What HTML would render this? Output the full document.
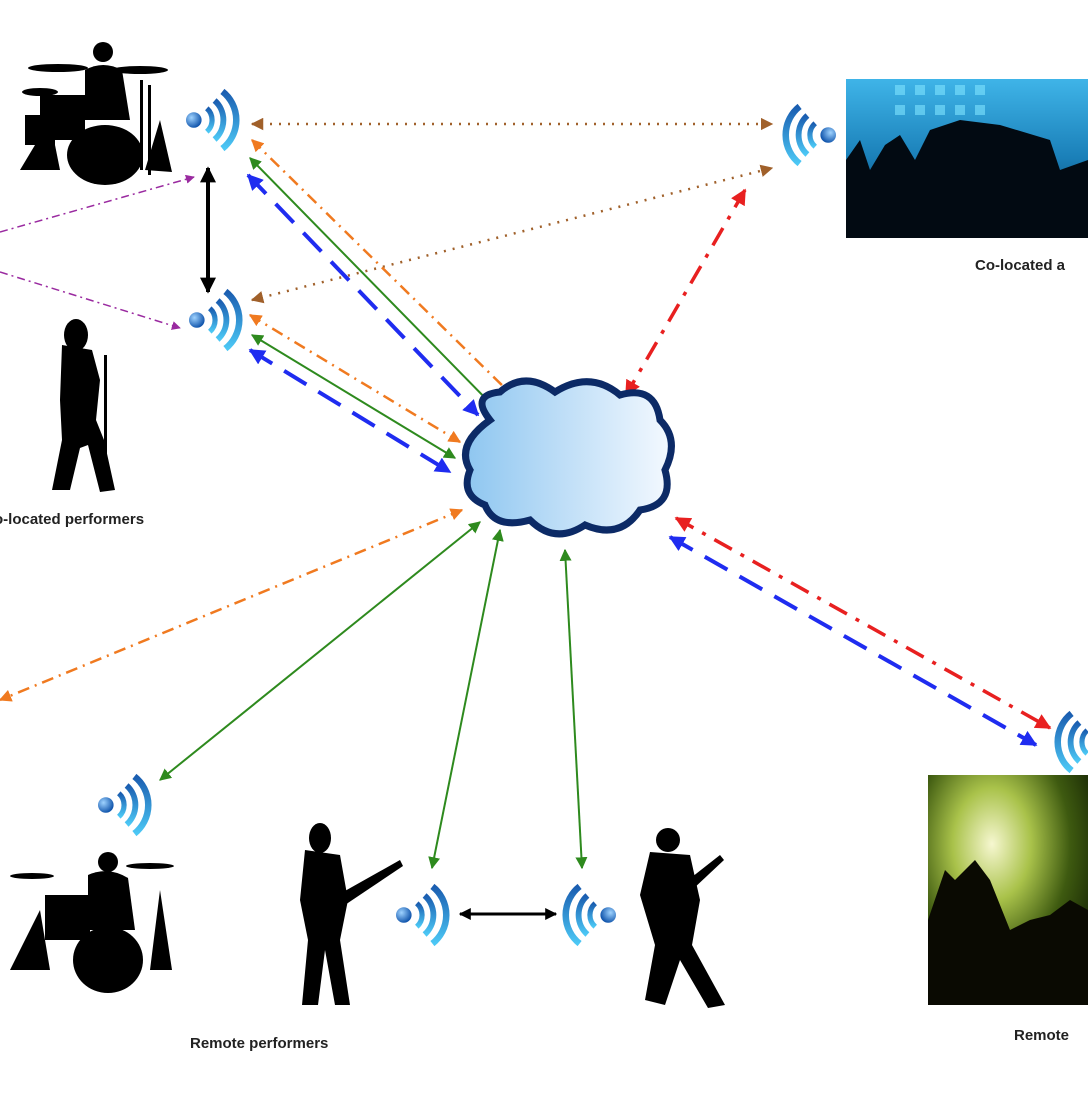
<!DOCTYPE html>
<html><head><meta charset="utf-8"><style>
html,body{margin:0;padding:0;background:#fff;width:1088px;height:1105px;overflow:hidden}
svg{display:block}
text{font-family:"Liberation Sans",sans-serif;font-weight:bold;font-size:15px;fill:#222}
</style></head><body>
<svg width="1088" height="1105" viewBox="0 0 1088 1105">
<defs>
<radialGradient id="dotg" cx="0.35" cy="0.35" r="0.7"><stop offset="0" stop-color="#9fd3ff"/><stop offset="1" stop-color="#0a4fa8"/></radialGradient>
<linearGradient id="arcg" x1="0" y1="0" x2="0" y2="1"><stop offset="0" stop-color="#1a5db0"/><stop offset="1" stop-color="#4cc8f5"/></linearGradient>
<linearGradient id="cloudg" x1="0" y1="0" x2="1" y2="0"><stop offset="0" stop-color="#8ec6f0"/><stop offset="1" stop-color="#f4f9ff"/></linearGradient>
<linearGradient id="blueimg" x1="0" y1="0" x2="0" y2="1"><stop offset="0" stop-color="#3fb4e8"/><stop offset="0.5" stop-color="#1a7fb8"/><stop offset="1" stop-color="#06304a"/></linearGradient>
<radialGradient id="greenimg" cx="0.4" cy="0.3" r="0.7"><stop offset="0" stop-color="#f6f7d0"/><stop offset="0.35" stop-color="#a9c24a"/><stop offset="0.7" stop-color="#3e5a10"/><stop offset="1" stop-color="#1a2a05"/></radialGradient>
<g id="wifi">
<g transform="scale(1.3)">
<circle cx="-14" cy="0" r="6" fill="url(#dotg)"/>
<path d="M-4,-9 A12,12 0 0 1 -4,9" fill="none" stroke="url(#arcg)" stroke-width="4"/>
<path d="M2,-15 A20,20 0 0 1 2,15" fill="none" stroke="url(#arcg)" stroke-width="4.5"/>
<path d="M8,-22 A28,28 0 0 1 8,22" fill="none" stroke="url(#arcg)" stroke-width="5"/>
</g>
</g>
<marker id="mBrown" viewBox="0 0 10 10" refX="9" refY="5" markerWidth="5" markerHeight="5" orient="auto-start-reverse"><path d="M0,0L10,5L0,10z" fill="#a0602a"/></marker>
<marker id="mOrange" viewBox="0 0 10 10" refX="9" refY="5" markerWidth="5" markerHeight="5" orient="auto-start-reverse"><path d="M0,0L10,5L0,10z" fill="#f07a20"/></marker>
<marker id="mGreen" viewBox="0 0 10 10" refX="9" refY="5" markerWidth="6" markerHeight="6" orient="auto-start-reverse"><path d="M0,0L10,5L0,10z" fill="#2e8a1e"/></marker>
<marker id="mBlue" viewBox="0 0 10 10" refX="9" refY="5" markerWidth="4" markerHeight="4" orient="auto-start-reverse"><path d="M0,0L10,5L0,10z" fill="#1f2cf0"/></marker>
<marker id="mRed" viewBox="0 0 10 10" refX="9" refY="5" markerWidth="4.5" markerHeight="4.5" orient="auto-start-reverse"><path d="M0,0L10,5L0,10z" fill="#e82020"/></marker>
<marker id="mPurple" viewBox="0 0 10 10" refX="9" refY="5" markerWidth="6" markerHeight="6" orient="auto-start-reverse"><path d="M0,0L10,5L0,10z" fill="#9a2aa0"/></marker>
<marker id="mBlack" viewBox="0 0 10 10" refX="9" refY="5" markerWidth="4" markerHeight="4" orient="auto-start-reverse"><path d="M0,0L10,5L0,10z" fill="#000"/></marker>
</defs>

<g fill="#000">
<ellipse cx="58" cy="68" rx="30" ry="4"/><ellipse cx="140" cy="70" rx="28" ry="4"/>
<ellipse cx="40" cy="92" rx="18" ry="4"/>
<circle cx="103" cy="52" r="10"/>
<path d="M85,70 Q103,60 122,70 L130,120 L85,120 Z"/>
<rect x="40" y="95" width="45" height="45"/>
<ellipse cx="105" cy="155" rx="38" ry="30"/>
<rect x="25" y="115" width="30" height="30"/>
<rect x="140" y="80" width="3" height="90"/><rect x="148" y="85" width="3" height="90"/>
<path d="M20,170 L50,120 L60,170 Z"/><path d="M145,170 L160,120 L172,172 Z"/>
</g>
<use href="#wifi" x="212" y="120"/>

<g fill="#000">
<ellipse cx="76" cy="335" rx="12" ry="16"/>
<path d="M62,345 L92,350 L100,380 L96,420 L104,440 L115,490 L100,492 L88,445 L80,448 L70,490 L52,490 L62,440 L60,400 Z"/>
<rect x="104" y="355" width="3" height="100"/>
</g>
<use href="#wifi" x="215" y="320"/>
<text x="-6" y="524">o-located performers</text>

<g>
<rect x="846" y="79" width="242" height="159" fill="url(#blueimg)"/>
<g fill="#7fe4ff" opacity="0.6"><rect x="895" y="85" width="10" height="10"/><rect x="915" y="85" width="10" height="10"/><rect x="935" y="85" width="10" height="10"/><rect x="955" y="85" width="10" height="10"/><rect x="975" y="85" width="10" height="10"/><rect x="895" y="105" width="10" height="10"/><rect x="915" y="105" width="10" height="10"/><rect x="935" y="105" width="10" height="10"/><rect x="955" y="105" width="10" height="10"/><rect x="975" y="105" width="10" height="10"/></g>
<path d="M846,238 L846,160 L860,140 L870,170 L885,145 L900,135 L915,160 L930,130 L960,120 L1000,125 L1050,140 L1060,170 L1088,160 L1088,238 Z" fill="#020a12"/>
</g>
<use href="#wifi" transform="translate(810,135) scale(-1,1)"/>
<text x="975" y="270">Co-located a</text>

<g>
<rect x="928" y="775" width="160" height="230" fill="url(#greenimg)"/>
<path d="M928,1005 L928,920 L945,870 L955,880 L975,860 L990,880 L1010,930 L1030,920 L1050,915 L1070,900 L1088,910 L1088,1005 Z" fill="#0a0a02"/>
</g>
<use href="#wifi" transform="translate(1082,742) scale(-1,1)"/>
<text x="1014" y="1040">Remote</text>

<g fill="#000">
<ellipse cx="32" cy="876" rx="22" ry="3"/><ellipse cx="150" cy="866" rx="24" ry="3"/>
<circle cx="108" cy="862" r="10"/>
<path d="M88,875 Q108,866 128,878 L135,930 L88,930 Z"/>
<rect x="45" y="895" width="45" height="45"/>
<ellipse cx="108" cy="960" rx="35" ry="33"/>
<path d="M10,970 L40,910 L50,970 Z"/><path d="M150,970 L160,890 L172,970 Z"/>
</g>
<use href="#wifi" x="124" y="805"/>

<g fill="#000">
<ellipse cx="320" cy="838" rx="11" ry="15"/>
<path d="M305,850 L340,855 L348,900 L340,940 L350,1005 L335,1005 L325,950 L318,1005 L302,1005 L308,940 L300,900 Z"/>
<path d="M320,905 L400,860 L403,866 L330,915 Z"/>
</g>
<use href="#wifi" x="422" y="915"/>

<g fill="#000">
<circle cx="668" cy="840" r="12"/>
<path d="M650,852 L690,855 L700,900 L692,945 L725,1005 L708,1008 L680,960 L665,1005 L645,1000 L655,945 L640,895 Z"/>
<path d="M650,910 L720,855 L724,860 L660,920 Z"/>
</g>
<use href="#wifi" transform="translate(590,915) scale(-1,1)"/>
<text x="190" y="1048">Remote performers</text>

<g fill="none">
<line x1="252" y1="124" x2="772" y2="124" stroke="#a0602a" stroke-width="2.5" stroke-dasharray="2,7" marker-start="url(#mBrown)" marker-end="url(#mBrown)"/>
<line x1="252" y1="300" x2="772" y2="168" stroke="#a0602a" stroke-width="2.5" stroke-dasharray="2,7" marker-start="url(#mBrown)" marker-end="url(#mBrown)"/>
<line x1="252" y1="140" x2="512" y2="395" stroke="#f07a20" stroke-width="2.5" stroke-dasharray="12,6,2,6" marker-start="url(#mOrange)" marker-end="url(#mOrange)"/>
<line x1="250" y1="158" x2="495" y2="408" stroke="#2e8a1e" stroke-width="2" marker-start="url(#mGreen)" marker-end="url(#mGreen)"/>
<line x1="248" y1="175" x2="478" y2="415" stroke="#1f2cf0" stroke-width="4" stroke-dasharray="26,14" marker-start="url(#mBlue)" marker-end="url(#mBlue)"/>
<line x1="250" y1="315" x2="460" y2="442" stroke="#f07a20" stroke-width="2.5" stroke-dasharray="12,6,2,6" marker-start="url(#mOrange)" marker-end="url(#mOrange)"/>
<line x1="252" y1="335" x2="455" y2="458" stroke="#2e8a1e" stroke-width="2" marker-start="url(#mGreen)" marker-end="url(#mGreen)"/>
<line x1="250" y1="350" x2="450" y2="472" stroke="#1f2cf0" stroke-width="4" stroke-dasharray="26,14" marker-start="url(#mBlue)" marker-end="url(#mBlue)"/>
<line x1="208" y1="168" x2="208" y2="292" stroke="#000" stroke-width="4" marker-start="url(#mBlack)" marker-end="url(#mBlack)"/>
<line x1="0" y1="232" x2="194" y2="177" stroke="#9a2aa0" stroke-width="1.5" stroke-dasharray="8,4,2,4" marker-end="url(#mPurple)"/>
<line x1="0" y1="272" x2="180" y2="328" stroke="#9a2aa0" stroke-width="1.5" stroke-dasharray="8,4,2,4" marker-end="url(#mPurple)"/>
<line x1="745" y1="190" x2="626" y2="395" stroke="#e82020" stroke-width="3.5" stroke-dasharray="20,10,4,10" marker-start="url(#mRed)" marker-end="url(#mRed)"/>
<line x1="462" y1="510" x2="0" y2="700" stroke="#f07a20" stroke-width="2.5" stroke-dasharray="12,6,2,6" marker-start="url(#mOrange)" marker-end="url(#mOrange)"/>
<line x1="480" y1="522" x2="160" y2="780" stroke="#2e8a1e" stroke-width="2" marker-start="url(#mGreen)" marker-end="url(#mGreen)"/>
<line x1="500" y1="530" x2="432" y2="868" stroke="#2e8a1e" stroke-width="2" marker-start="url(#mGreen)" marker-end="url(#mGreen)"/>
<line x1="565" y1="550" x2="582" y2="868" stroke="#2e8a1e" stroke-width="2" marker-start="url(#mGreen)" marker-end="url(#mGreen)"/>
<line x1="676" y1="518" x2="1050" y2="728" stroke="#e82020" stroke-width="3.5" stroke-dasharray="20,10,4,10" marker-start="url(#mRed)" marker-end="url(#mRed)"/>
<line x1="670" y1="537" x2="1036" y2="745" stroke="#1f2cf0" stroke-width="4" stroke-dasharray="26,14" marker-start="url(#mBlue)" marker-end="url(#mBlue)"/>
<line x1="460" y1="914" x2="556" y2="914" stroke="#000" stroke-width="3" marker-start="url(#mBlack)" marker-end="url(#mBlack)"/>
</g>

<path d="M490,420 Q470,395 500,392 Q525,370 555,392 Q590,370 620,395 Q655,385 660,420 Q680,440 665,470 Q675,505 640,510 Q620,540 585,525 Q555,545 530,520 Q495,530 485,505 Q460,495 470,470 Q455,445 490,420 Z" fill="url(#cloudg)" stroke="#0c2a66" stroke-width="7"/>
</svg>
</body></html>
